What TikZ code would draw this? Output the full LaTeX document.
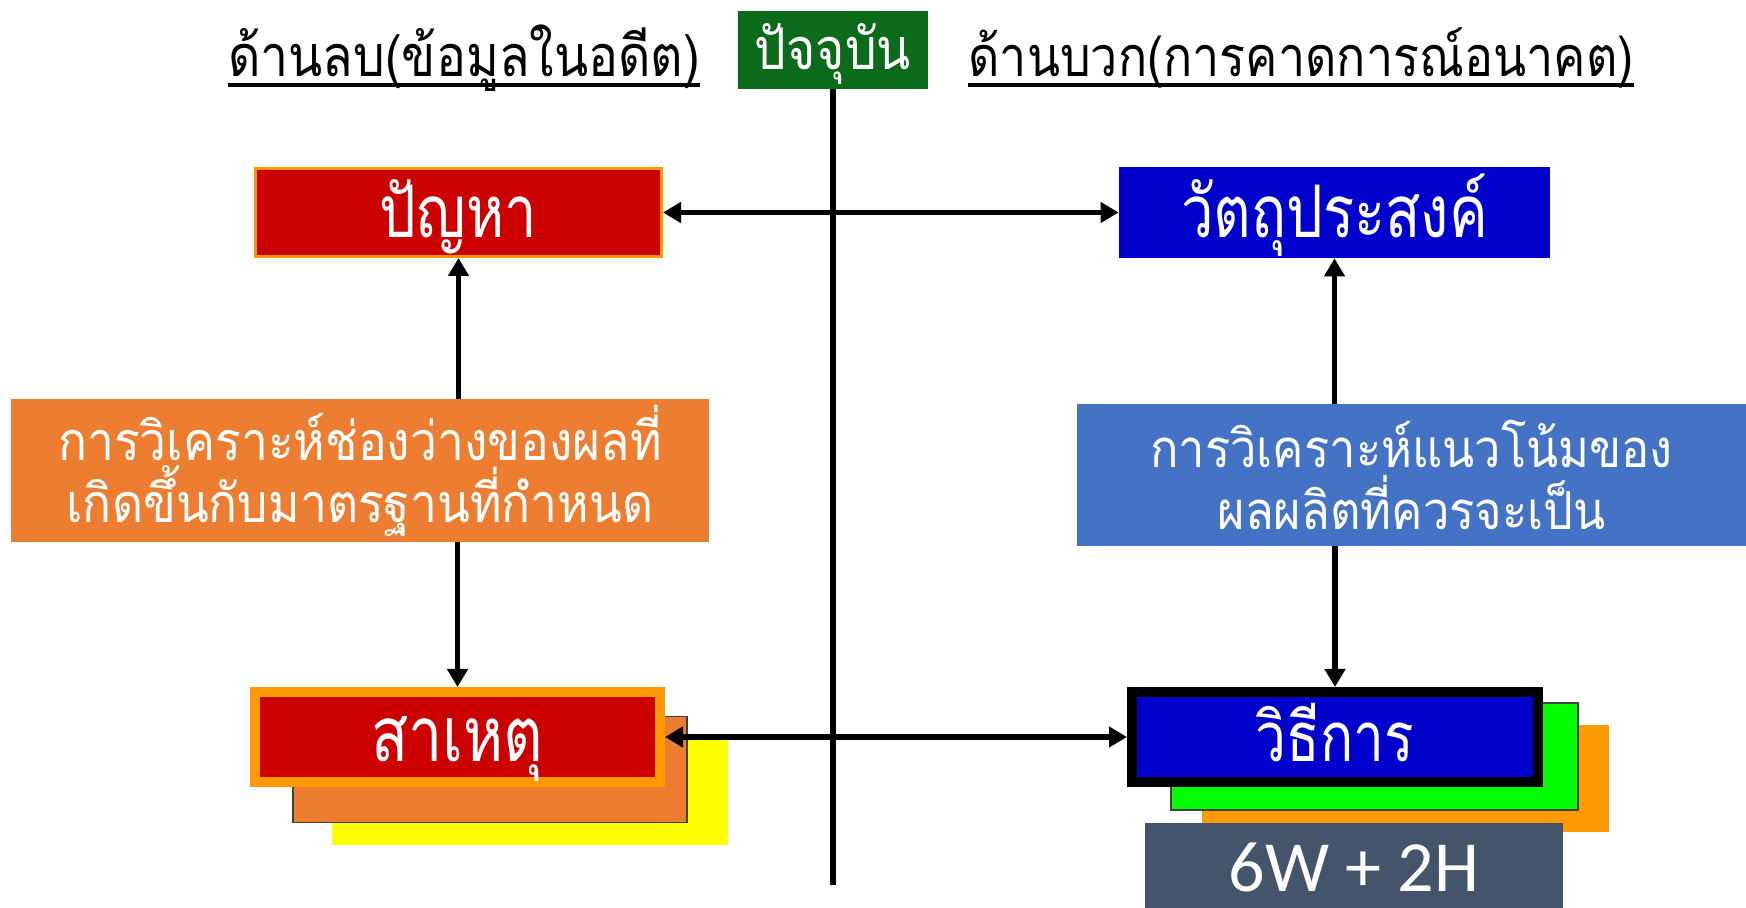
\documentclass[tikz,border=0pt]{standalone}
\usepackage{fontspec}
\usepackage{graphicx}
\newfontfamily\thai[Script=Thai]{Loma}
\newfontfamily\lat{Carlito}
\usetikzlibrary{arrows.meta}
\definecolor{cred}{HTML}{CC0000}
\definecolor{corg}{HTML}{FF9900}
\definecolor{cgrn}{HTML}{0B6B1A}
\definecolor{cblu}{HTML}{0000CC}
\definecolor{cmorg}{HTML}{ED7D31}
\definecolor{cmblu}{HTML}{4472C4}
\definecolor{cgray}{HTML}{44546A}
\definecolor{cbgrn}{HTML}{00FF00}
\definecolor{cyel}{HTML}{FFFF00}
\newcommand\tallA[1]{\scalebox{1}[1.25]{#1}}
\newcommand\tallB[1]{\scalebox{1}[1.12]{#1}}
\newcommand\tallC[1]{\scalebox{1}[1.15]{#1}}
\tikzset{
  box/.style={rectangle, inner sep=0pt, align=center, text=white, text height=25pt, text depth=0pt, font=\thai\fontsize{29pt}{34pt}\selectfont},
  midbox/.style={rectangle, inner sep=0pt, align=center, text=white, font=\thai\fontsize{24pt}{31pt}\selectfont},
  hdr/.style={inner sep=0pt, anchor=base, text=black, font=\thai\fontsize{25pt}{28pt}\selectfont},
  arr/.style={line width=2.6pt, {Triangle[length=9pt,width=10pt]}-{Triangle[length=9pt,width=10pt]}},
  arre/.style={line width=2.6pt, -{Triangle[length=9pt,width=10pt]}},
  shadow/.style={rectangle, inner sep=0pt},
}
\begin{document}
\begin{tikzpicture}[x=0.5pt,y=-0.5pt]
\useasboundingbox (0,0) rectangle (1746,908);
\fill[white] (0,0) rectangle (1746,908);

% headers
\node[hdr] (hl) at (464,77) {\tallC{ด้านลบ(ข้อมูลในอดีต)}};
\draw[line width=1.6pt] (hl.west |- 0,85) -- (hl.east |- 0,85);
\node[hdr, font=\thai\fontsize{24.2pt}{28pt}\selectfont] (hr) at (1301,77) {\tallC{ด้านบวก(การคาดการณ์อนาคต)}};
\draw[line width=1.6pt] (hr.west |- 0,85) -- (hr.east |- 0,85);

% present
\node[box, fill=cgrn, minimum width=95pt, minimum height=39pt, text height=20pt, font=\thai\fontsize{25pt}{28pt}\selectfont] (now) at (833,50) {\tallC{ปัจจุบัน}};
\coordinate (bot) at (833,885);
\draw[line width=2.6pt] (now.south) -- (bot);

% top boxes
\node[box, fill=cred, draw=corg, line width=1.5pt, minimum width=203pt, minimum height=44pt] (prob) at (458.5,212.5) {\tallA{ปัญหา}};
\node[box, fill=cblu, minimum width=215.5pt, minimum height=45.5pt] (obj) at (1334.5,212.5) {\tallA{วัตถุประสงค์}};

% middle boxes
\node[midbox, fill=cmorg, minimum width=349pt, minimum height=71.5pt] (gap) at (360,470.5) {\tallB{การวิเคราะห์ช่องว่างของผลที่}\\\tallB{เกิดขึ้นกับมาตรฐานที่กำหนด}};
\node[midbox, fill=cmblu, minimum width=334.5pt, minimum height=71pt, font=\thai\fontsize{23.5pt}{31pt}\selectfont] (trend) at (1411.5,475) {\tallB{การวิเคราะห์แนวโน้มของ}\\\tallB{ผลผลิตที่ควรจะเป็น}};

% cause stack
\node[shadow, fill=cyel, minimum width=198pt, minimum height=52.5pt] (cy) at (530,792.5) {};
\node[shadow, fill=cmorg, draw=black!75, line width=0.6pt, minimum width=197pt, minimum height=53pt] (co) at (490,769.5) {};
\node[box, fill=cred, draw=corg, line width=5pt, minimum width=202.5pt, minimum height=45pt, font=\thai\fontsize{30.5pt}{34pt}\selectfont] (cause) at (457.5,737) {\tallA{สาเหตุ}};

% method stack
\node[shadow, fill=corg, minimum width=203.5pt, minimum height=53.5pt] (mo) at (1405.5,778.5) {};
\node[shadow, fill=cbgrn, draw=black!75, line width=0.6pt, minimum width=203.5pt, minimum height=53.5pt] (mg) at (1374.5,756.5) {};
\node[box, fill=cblu, draw=black, line width=5pt, minimum width=203pt, minimum height=45pt, font=\thai\fontsize{27.5pt}{34pt}\selectfont] (method) at (1335,737) {\tallA{วิธีการ}};

% 6W + 2H
\node[box, fill=cgray, minimum width=209pt, minimum height=42.5pt, text height=26pt, font=\lat\fontsize{36pt}{40pt}\selectfont] (w) at (1354,865.5) {6W + 2H};

% arrows
\draw[arr] (prob.east) -- (obj.west);
\draw[arr] (cause.east) -- (method.west);
\draw[arre] (prob.south |- gap.north) -- (prob.south);
\draw[arre] (cause.north |- gap.south) -- (cause.north);
\draw[arre] (obj.south |- trend.north) -- (obj.south);
\draw[arre] (method.north |- trend.south) -- (method.north);
\end{tikzpicture}
\end{document}
